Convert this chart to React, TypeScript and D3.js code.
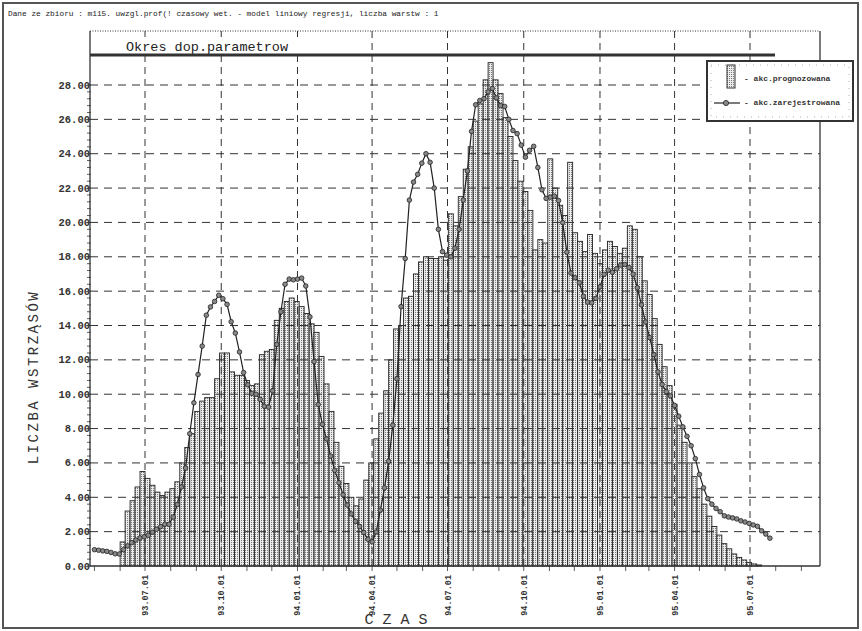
import React from "react";
import * as d3 from "d3";

const headerText =
  "Dane ze zbioru : m115. uwzgl.prof(! czasowy wet. - model liniowy regresji, liczba warstw : 1";
const periodLabel = "Okres dop.parametrow";
const yTitle = "LICZBA WSTRZĄSÓW";
const xTitle = "C Z A S";
const legendLabels = ["- akc.prognozowana", "- akc.zarejestrowana"];

const yTicks = [0, 2, 4, 6, 8, 10, 12, 14, 16, 18, 20, 22, 24, 26, 28];
const xTickDates = [
  "1993-07-01", "1993-10-01", "1994-01-01", "1994-04-01", "1994-07-01",
  "1994-10-01", "1995-01-01", "1995-04-01", "1995-07-01",
];
const xTickLabels = [
  "93.07.01", "93.10.01", "94.01.01", "94.04.01", "94.07.01",
  "94.10.01", "95.01.01", "95.04.01", "95.07.01",
];

// forecast (bars), one value every 6 days starting 1993-06-01
const barStart = "1993-06-01";
const barStepDays = 6;
const forecastValues = [
  1.4, 3.2, 3.8, 4.6, 5.5, 5.1, 4.7, 4.3, 4.1, 4.3,
  4.5, 4.9, 6.0, 6.9, 7.7, 9.0, 9.6, 9.8, 9.8, 10.9,
  12.4, 12.4, 11.3, 11.1, 11.1, 10.8, 10.5, 10.6, 12.3, 12.5,
  12.6, 14.3, 15.0, 15.4, 15.6, 15.4, 15.1, 14.7, 14.1, 13.6,
  12.2, 10.6, 9.0, 7.2, 5.8, 4.8, 4.0, 3.5, 3.9, 5.0,
  6.0, 7.4, 8.9, 10.2, 12.0, 13.8, 14.0, 15.6, 15.7, 17.0,
  17.7, 18.0, 17.9, 17.9, 18.0, 17.8, 20.5, 19.8, 21.5, 23.1,
  24.4, 25.9, 26.9, 28.3, 29.3, 28.3, 27.5, 26.1, 25.0, 23.6,
  22.4, 21.8, 20.7, 18.4, 19.0, 18.8, 23.7, 22.0, 21.0, 20.4,
  23.5, 19.4, 18.9, 18.3, 19.3, 18.2, 17.6, 18.4, 18.9, 18.6,
  18.2, 18.5, 19.8, 19.6, 18.0, 16.6, 15.8, 14.4, 12.9, 11.6,
  10.5, 9.4, 8.2, 7.2, 6.0, 5.2, 4.5, 3.6, 2.9, 2.3,
  1.8, 1.3, 1.0, 0.7, 0.5, 0.35, 0.2, 0.12, 0.06,
];

// recorded (line), one value every 5 days starting 1993-05-01
const lineStart = "1993-05-01";
const lineStepDays = 5;
const recordedValues = [
  0.95, 0.92, 0.88, 0.85, 0.79, 0.71, 0.7, 0.95, 1.17, 1.36,
  1.51, 1.63, 1.7, 1.79, 1.97, 2.14, 2.29, 2.43, 2.43, 2.85,
  3.58, 4.6, 5.7, 7.7, 9.5, 11.15, 12.8, 14.6, 15.08, 15.4,
  15.76, 15.56, 15.23, 14.22, 13.56, 12.46, 11.26, 10.55, 10.05, 10.0,
  9.7, 9.3, 9.25, 10.2, 12.9, 14.8, 16.4, 16.7, 16.66, 16.7,
  16.76, 16.3, 14.5, 11.9, 9.4, 8.25, 7.4, 6.4, 5.57, 4.85,
  4.15, 3.55, 3.03, 2.6, 2.3, 1.95, 1.56, 1.41, 1.98, 3.25,
  4.55, 6.1, 8.2, 10.9, 15.1, 17.9, 21.3, 22.35, 22.8, 23.45,
  24.0, 23.5, 22.0, 19.6, 18.3, 18.1, 18.0, 18.5, 19.6, 21.3,
  23.0, 25.3, 26.85, 27.1, 27.2, 27.6, 27.8, 27.25, 26.8, 26.75,
  26.0, 25.35, 25.17, 24.5, 23.8, 24.2, 24.43, 23.2, 21.9, 21.4,
  21.47, 21.53, 21.27, 19.99, 18.27, 17.05, 16.78, 16.49, 15.7, 15.36,
  15.32, 15.58, 16.25, 16.98, 17.22, 17.1, 17.3, 17.52, 17.55, 17.37,
  16.99, 16.2, 15.2, 14.2, 13.3, 12.3, 11.3, 10.57, 10.15, 9.9,
  9.35, 8.72, 8.1, 7.55, 7.0, 6.25, 5.33, 4.55, 3.92, 3.6,
  3.35, 3.16, 2.92, 2.85, 2.8, 2.74, 2.63, 2.56, 2.48, 2.39,
  2.31, 2.05, 1.86, 1.62,
];

const parseDate = d3.timeParse("%Y-%m-%d");

export default function App() {
  const left = 90;
  const right = 820;
  const top = 31;
  const bottom = 566;

  const x = d3
    .scaleTime()
    .domain([parseDate("1993-07-01")!, parseDate("1995-07-01")!])
    .range([145, 750]);
  const y = d3.scaleLinear().domain([0, 28]).range([bottom, 85]);

  const b0 = parseDate(barStart)!;
  const bars = forecastValues.map((v, i) => {
    const d0 = d3.timeDay.offset(b0, i * barStepDays);
    const d1 = d3.timeDay.offset(b0, (i + 1) * barStepDays);
    return { x0: x(d0), x1: x(d1), v };
  });

  const l0 = parseDate(lineStart)!;
  const pts = recordedValues.map((v, i) => ({
    d: d3.timeDay.offset(l0, i * lineStepDays),
    v,
  }));
  const linePath = d3
    .line<{ d: Date; v: number }>()
    .x((p) => x(p.d))
    .y((p) => y(p.v))(pts);

  const minorY = d3.range(0, 28.01, 0.4);
  const months = d3.timeMonth.range(parseDate("1993-05-01")!, parseDate("1995-10-01")!);

  const mono = "'Liberation Mono', 'DejaVu Sans Mono', monospace";

  return (
    <svg
      width={862}
      height={631}
      style={{ position: "absolute", left: 0, top: 0, background: "#fff", display: "block" }}
      fontFamily={mono}
    >
      <defs>
        <pattern id="stip" width="2" height="2" patternUnits="userSpaceOnUse">
          <rect width="2" height="2" fill="#ececec" />
          <rect x="1" y="0" width="1" height="1" fill="#7a7a7a" />
        </pattern>
      </defs>
      <rect x={0} y={0} width={862} height={631} fill="#fff" />
      <rect x={3} y={3} width={855} height={625} fill="none" stroke="#555" strokeWidth={2} />

      <text x={8} y={16} fontSize={7.8} fill="#222">
        {headerText}
      </text>

      {/* bars */}
      <g>
        {bars.map((b, i) => (
          <rect
            key={i}
            x={b.x0}
            y={y(b.v)}
            width={b.x1 - b.x0}
            height={bottom - y(b.v)}
            fill="url(#stip)"
            stroke="#222"
            strokeWidth={0.9}
          />
        ))}
      </g>

      {/* grid */}
      <g stroke="#333" strokeWidth={1}>
        {yTicks.filter((t) => t > 0).map((t) => (
          <line key={"h" + t} x1={left} x2={right} y1={y(t)} y2={y(t)} strokeDasharray="8 6" />
        ))}
        {xTickDates.map((s) => {
          const gx = x(parseDate(s)!);
          return <line key={"v" + s} x1={gx} x2={gx} y1={top} y2={bottom} strokeDasharray="7 5" />;
        })}
      </g>

      {/* frame */}
      <line x1={left} x2={right} y1={top} y2={top} stroke="#333" strokeWidth={1} strokeDasharray="1 1.5" />
      <line x1={right} x2={right} y1={top} y2={bottom} stroke="#333" strokeWidth={1.3} />
      <line x1={left} x2={left} y1={top} y2={bottom} stroke="#333" strokeWidth={1.3} />
      <line x1={left} x2={right} y1={bottom} y2={bottom} stroke="#333" strokeWidth={1.3} />

      {/* axis ticks */}
      <g stroke="#333" strokeWidth={0.8}>
        {minorY.map((t, i) => (
          <line key={"my" + i} x1={87} x2={91} y1={y(t)} y2={y(t)} />
        ))}
        {months.map((m, i) => (
          <line key={"mx" + i} x1={x(m)} x2={x(m)} y1={bottom} y2={bottom + 5} />
        ))}
      </g>

      {/* y labels */}
      <g fontSize={10.5} fontWeight="bold" fill="#333" textAnchor="end">
        {yTicks.map((t) => (
          <text key={"yl" + t} x={90} y={y(t) + 3.5}>
            {t.toFixed(2)}
          </text>
        ))}
      </g>

      {/* x labels */}
      <g fontSize={8.5} fontWeight="bold" fill="#333" textAnchor="end">
        {xTickDates.map((s, i) => {
          const gx = x(parseDate(s)!) + 3;
          return (
            <text key={"xl" + s} transform={`translate(${gx},575) rotate(-90)`}>
              {xTickLabels[i]}
            </text>
          );
        })}
      </g>

      {/* period band */}
      <rect x={93} y={37} width={205} height={16} fill="#fff" />
      <text x={126} y={51} fontSize={13.5} fill="#222">
        {periodLabel}
      </text>
      <line x1={left} x2={775} y1={55} y2={55} stroke="#333" strokeWidth={3} />

      {/* recorded line */}
      <path d={linePath ?? ""} fill="none" stroke="#222" strokeWidth={1.2} />
      <g>
        {pts.map((p, i) => (
          <circle key={i} cx={x(p.d)} cy={y(p.v)} r={2.3} fill="#888" stroke="#222" strokeWidth={0.8} />
        ))}
      </g>

      {/* legend */}
      <rect x={707} y={61} width={146} height={60} fill="#fff" stroke="#333" strokeWidth={2} />
      <rect x={711} y={65} width={138} height={52} fill="none" stroke="#999" strokeWidth={0.8} strokeDasharray="1 6" />
      <rect x={727} y={65} width={8} height={23} fill="url(#stip)" stroke="#333" strokeWidth={1} />
      <line x1={714} x2={740} y1={103} y2={103} stroke="#222" strokeWidth={1.2} />
      <circle cx={726} cy={103} r={2.6} fill="#888" stroke="#222" strokeWidth={0.8} />
      <g fontSize={8} fontWeight="bold" fill="#333">
        <text x={744} y={81}>{legendLabels[0]}</text>
        <text x={744} y={105}>{legendLabels[1]}</text>
      </g>

      {/* titles */}
      <text
        transform="translate(38,377) rotate(-90)"
        textAnchor="middle"
        fontSize={14}
        letterSpacing={2.5}
        fill="#333"
      >
        {yTitle}
      </text>
      <text x={396} y={624} textAnchor="middle" fontSize={15} fill="#333">
        {xTitle}
      </text>
    </svg>
  );
}
